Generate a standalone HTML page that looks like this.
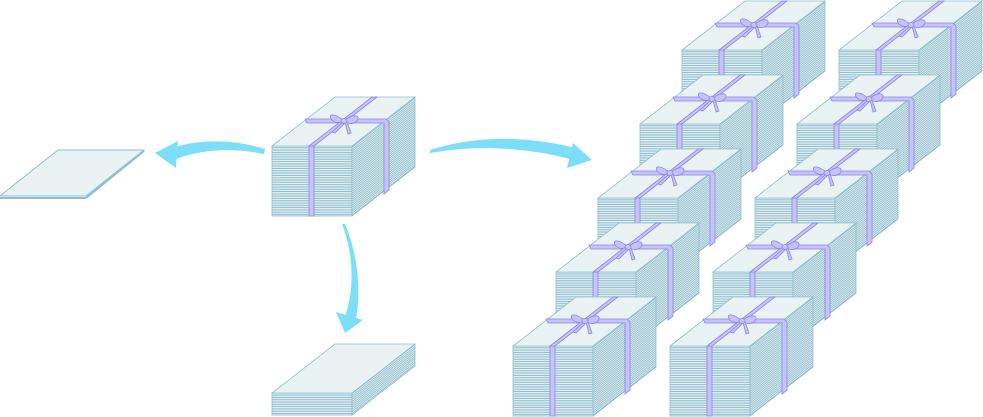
<!DOCTYPE html>
<html><head><meta charset="utf-8"><style>html,body{margin:0;padding:0;background:#fff}svg{display:block}</style></head>
<body>
<svg width="983" height="417" viewBox="0 0 983 417" xmlns="http://www.w3.org/2000/svg">
<defs>
<pattern id="pf" patternUnits="userSpaceOnUse" width="4" height="2.3">
<rect width="4" height="2.3" fill="#e4f0f3"/><rect y="1.3" width="4" height="1" fill="#8dbccd"/></pattern>
<pattern id="pr" patternUnits="userSpaceOnUse" width="4" height="2" patternTransform="skewY(-37.9)">
<rect width="4" height="2" fill="#e4f0f3"/><rect y="1.1" width="4" height="0.9" fill="#86b6c8"/></pattern>
<g id="stack">
<rect x="0" y="0" width="80" height="70" fill="url(#pf)" stroke="#8fbfd0" stroke-width="0.8"/>
<polygon points="80,0 143,-49 143,21 80,70" fill="url(#pr)" stroke="#8fbfd0" stroke-width="0.8"/>
<polygon points="0,0 80,0 143,-49 63,-49" fill="#e9f3f4" stroke="#8fbfd0" stroke-width="0.8"/>
<g fill="#c6c2fb" stroke="#8c86e6" stroke-width="0.8">
<polygon points="33,-27 114,-27 117,-24 117,44 112,48 112,-23 35,-23"/>
<polygon points="37,0 42,0 42,70 37,70"/>
<polygon points="37,0 100,-49 105,-49 42,0"/>
<path d="M72,-25 C62,-34 55,-32 60,-26 C64,-22 70,-24 72,-25 Z"/>
<path d="M72,-25 C82,-34 90,-30 84,-24 C80,-21 74,-23 72,-25 Z"/>
<path d="M71,-24 L60,-14 L63,-13 L72,-22 Z"/>
<path d="M73,-24 L76,-12 L79,-13 L75,-24 Z"/>
<ellipse cx="72" cy="-25" rx="3" ry="2.5"/>
</g>
</g>
</defs>
<polygon points="0,196 86,196 144,150 58,150" fill="#e9f3f4" stroke="#8fbfd0" stroke-width="1"/>
<line x1="0" y1="198" x2="86" y2="198" stroke="#8fbfd0" stroke-width="2"/>
<line x1="86" y1="198" x2="144" y2="151" stroke="#8fbfd0" stroke-width="2"/>
<rect x="272" y="393" width="80" height="22" fill="url(#pf)" stroke="#8fbfd0" stroke-width="0.8"/>
<polygon points="352,393 415,344 415,366 352,415" fill="url(#pr)" stroke="#8fbfd0" stroke-width="0.8"/>
<polygon points="272,393 352,393 415,344 335,344" fill="#e9f3f4" stroke="#8fbfd0" stroke-width="0.8"/>
<use href="#stack" x="272" y="146"/>
<g fill="#7ddff7">
<path d="M265,149 C230,138 195,140 172,148 L176,159 C200,150 230,147 264,154 Z"/>
<polygon points="155,153 178,141 176,168"/>
<path d="M430,150 C480,134 530,137 576,148 L574,160 C530,148 480,144 430,153 Z"/>
<polygon points="592,160 573,143 567,168"/>
<path d="M342,224 C352,250 356,285 345,316 L356,319 C362,285 356,250 345,224 Z"/>
<polygon points="345,333 336,312 363,320"/>
</g>
<use href="#stack" x="682" y="50"/><use href="#stack" x="839" y="50"/>
<use href="#stack" x="640" y="124"/><use href="#stack" x="797" y="124"/>
<use href="#stack" x="598" y="198"/><use href="#stack" x="755" y="198"/>
<use href="#stack" x="556" y="272"/><use href="#stack" x="713" y="272"/>
<use href="#stack" x="513" y="346"/><use href="#stack" x="670" y="346"/>
</svg>
</body></html>
